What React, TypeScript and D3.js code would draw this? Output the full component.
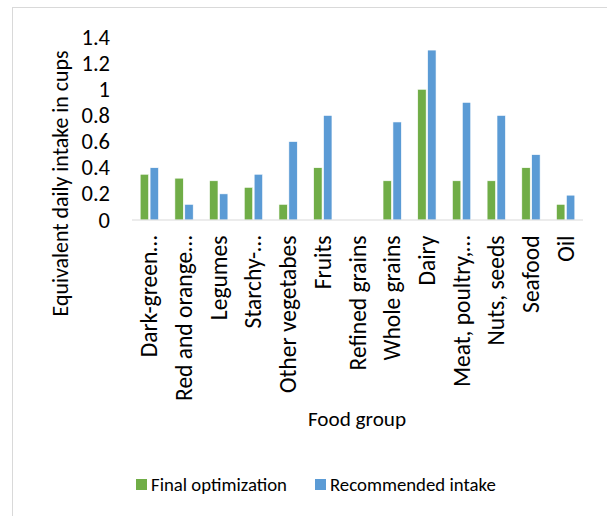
import React from "react";
import * as d3 from "d3";

const categories = [
  "Dark-green…",
  "Red and orange…",
  "Legumes",
  "Starchy-…",
  "Other vegetabes",
  "Fruits",
  "Refined grains",
  "Whole grains",
  "Dairy",
  "Meat, poultry,…",
  "Nuts, seeds",
  "Seafood",
  "Oil",
];
const finalOptimization = [0.35, 0.32, 0.3, 0.25, 0.12, 0.4, 0, 0.3, 1.0, 0.3, 0.3, 0.4, 0.12];
const recommendedIntake = [0.4, 0.12, 0.2, 0.35, 0.6, 0.8, 0, 0.75, 1.3, 0.9, 0.8, 0.5, 0.19];
const seriesNames = ["Final optimization", "Recommended intake"];
const seriesColors = ["#70AD47", "#5B9BD5"];
const yTicks = [0, 0.2, 0.4, 0.6, 0.8, 1, 1.2, 1.4];

const W = 607;
const H = 516;
const FONT = "Carlito, Calibri, Lato, 'Open Sans', sans-serif";

export default function App() {
  const plotLeft = 132;
  const plotRight = 583;
  const plotTop = 37;
  const plotBottom = 220;

  const x0 = d3.scaleBand<string>().domain(categories).range([plotLeft, plotRight]).padding(0);
  const bw = x0.bandwidth();
  const x1 = d3
    .scaleBand<string>()
    .domain(seriesNames)
    .range([bw * 0.236, bw * 0.764])
    .paddingInner(0.15);
  const y = d3.scaleLinear().domain([0, 1.4]).range([plotBottom, plotTop]);

  const series = [finalOptimization, recommendedIntake];

  return (
    <svg
      width={W}
      height={H}
      style={{ position: "absolute", left: 0, top: 0, background: "#fff" }}
      fontFamily={FONT}
    >
      <rect x={12.5} y={7.5} width={W} height={H} fill="#fff" stroke="#d9d9d9" strokeWidth={1} />

      {/* y tick labels */}
      {yTicks.map((t) => (
        <text
          key={t}
          x={110}
          y={y(t)}
          textAnchor="end"
          dominantBaseline="central"
          fontSize={22.5}
          fill="#000"
        >
          {d3.format("~g")(t)}
        </text>
      ))}

      {/* bars */}
      {categories.map((c, i) => (
        <g key={c} transform={`translate(${x0(c)},0)`}>
          {series.map((vals, s) =>
            vals[i] > 0 ? (
              <rect
                key={s}
                x={x1(seriesNames[s])}
                y={y(vals[i])}
                width={x1.bandwidth()}
                height={y(0) - y(vals[i])}
                fill={seriesColors[s]}
                stroke="#fff"
                strokeWidth={0.6}
              />
            ) : null
          )}
        </g>
      ))}

      {/* category axis line */}
      <line x1={plotLeft} x2={plotRight} y1={y(0)} y2={y(0)} stroke="#d9d9d9" strokeWidth={1.2} />

      {/* category labels */}
      {categories.map((c) => {
        const cx = (x0(c) as number) + bw / 2;
        return (
          <text
            key={c}
            transform={`translate(${cx},235.5) rotate(-90)`}
            textAnchor="end"
            dominantBaseline="central"
            fontSize={23.5}
            fill="#000"
          >
            {c}
          </text>
        );
      })}

      {/* axis titles */}
      <text x={357} y={426} textAnchor="middle" fontSize={21.2} fill="#000">
        Food group
      </text>
      <text
        transform={`translate(60,183.5) rotate(-90)`}
        textAnchor="middle"
        dominantBaseline="central"
        fontSize={21.9}
        fill="#000"
      >
        Equivalent daily intake in cups
      </text>

      {/* legend */}
      {seriesNames.map((name, s) => {
        const lx = s === 0 ? 136 : 315;
        return (
          <g key={name}>
            <rect x={lx} y={479} width={11} height={11} fill={seriesColors[s]} />
            <text x={lx + 15} y={490.5} fontSize={18.8} fill="#000">
              {name}
            </text>
          </g>
        );
      })}
    </svg>
  );
}
